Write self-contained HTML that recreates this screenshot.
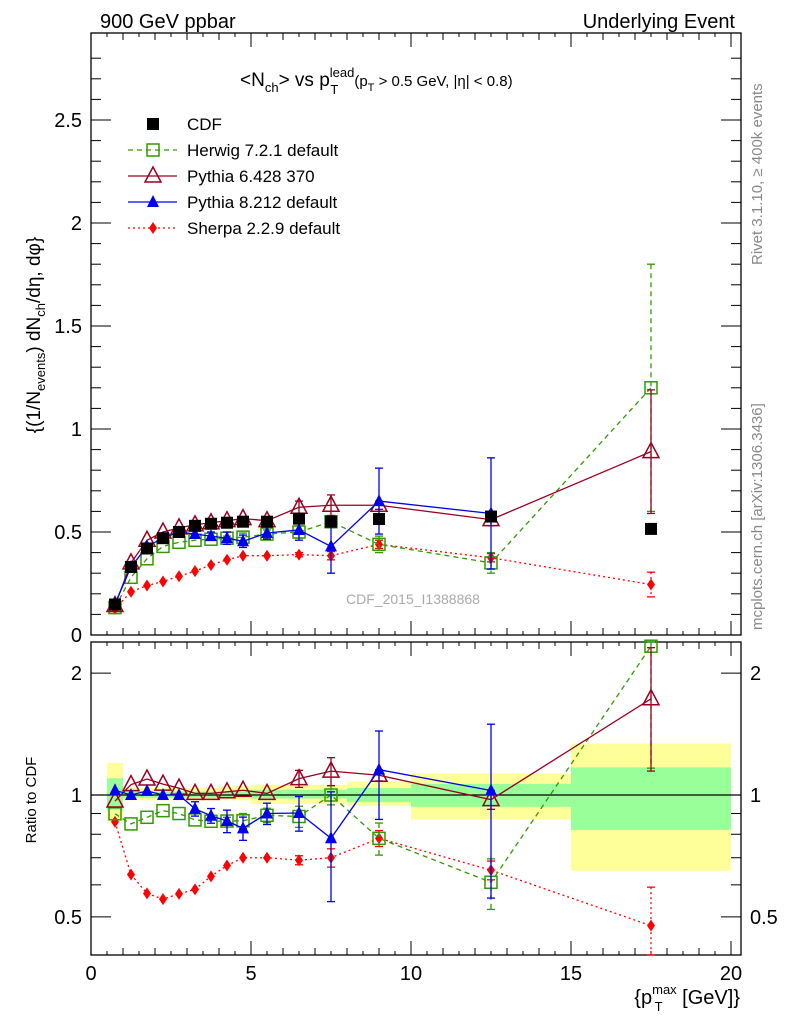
<!DOCTYPE html>
<html><head><meta charset="utf-8">
<style>
html,body{margin:0;padding:0;background:#fff;}
svg{display:block;font-family:"Liberation Sans",sans-serif;}
</style></head>
<body>
<svg id="c" width="786" height="1024" viewBox="0 0 786 1024" xmlns="http://www.w3.org/2000/svg">
<text x="100" y="28" font-size="20">900 GeV ppbar</text>
<text x="735" y="28" font-size="20" text-anchor="end">Underlying Event</text>
<text transform="translate(762,265) rotate(-90)" font-size="15" fill="#888">Rivet 3.1.10, ≥ 400k events</text>
<text transform="translate(762,630) rotate(-90)" font-size="15" fill="#888">mcplots.cern.ch [arXiv:1306.3436]</text>
<text x="240" y="86" font-size="19">&lt;N<tspan font-size="13" dy="6">ch</tspan><tspan dy="-6">&gt; vs p</tspan><tspan font-size="13" dy="-9">lead</tspan><tspan font-size="13" dx="-24" dy="17">T</tspan><tspan font-size="15" dx="16" dy="-8">(p</tspan><tspan font-size="11" dy="5">T</tspan><tspan font-size="15" dy="-5"> &gt; 0.5 GeV, |η| &lt; 0.8)</tspan></text>
<text x="413" y="604" font-size="14" fill="#aaa" text-anchor="middle">CDF_2015_I1388868</text>
<text transform="translate(40,335) rotate(-90)" font-size="19" text-anchor="middle">{(1/N<tspan font-size="13" dy="5">events</tspan><tspan dy="-5">) dN</tspan><tspan font-size="13" dy="5">ch</tspan><tspan dy="-5">/dη, dφ}</tspan></text>
<text transform="translate(36,800) rotate(-90)" font-size="15" text-anchor="middle">Ratio to CDF</text>
<text x="740" y="1004" font-size="20" text-anchor="end">{p<tspan font-size="13" dy="-10">max</tspan><tspan font-size="13" dx="-22" dy="17">T</tspan><tspan dx="14" dy="-7"> [GeV]}</tspan></text>
<g id="g"></g>
</svg>
<script>
const xs=[0.75,1.25,1.75,2.25,2.75,3.25,3.75,4.25,4.75,5.5,6.5,7.5,9,12.5,17.5];
const edges=[0.5,1,1.5,2,2.5,3,3.5,4,4.5,5,6,7,8,10,15,20];
const cdf=[0.148,0.33,0.42,0.47,0.50,0.53,0.54,0.545,0.55,0.55,0.565,0.55,0.563,0.575,0.515];
const herwig=[0.133,0.28,0.37,0.43,0.45,0.46,0.465,0.47,0.475,0.49,0.50,0.55,0.44,0.35,1.2];
const herwigErr=[0,0,0,0,0,0,0,0.01,0.02,0.02,0.03,0.03,0.04,0.05,0.6];
const py6=[0.143,0.35,0.46,0.5,0.52,0.535,0.545,0.555,0.565,0.555,0.62,0.63,0.63,0.56,0.89];
const py6Err=[0,0,0,0,0,0,0,0,0,0,0.03,0.05,0.02,0.03,0.3];
const py8=[0.152,0.33,0.43,0.47,0.5,0.49,0.48,0.47,0.455,0.495,0.51,0.43,0.65,0.59];
const py8Err=[0,0,0,0,0,0.02,0.02,0.03,0.03,0.03,0.05,0.13,0.16,0.27];
const sherpa=[0.127,0.21,0.24,0.26,0.285,0.31,0.34,0.365,0.385,0.385,0.39,0.385,0.44,0.375,0.245];
const sherpaErr=[0,0,0,0,0,0,0,0,0,0,0.01,0.02,0.02,0.02,0.06];
const yellowLo=[0.86,0.97,0.97,0.97,0.97,0.97,0.97,0.97,0.97,0.95,0.95,0.95,0.94,0.87,0.65];
const yellowHi=[1.2,1.04,1.04,1.04,1.04,1.04,1.04,1.05,1.05,1.06,1.06,1.06,1.08,1.13,1.34];
const greenLo=[0.92,0.985,0.985,0.985,0.985,0.985,0.985,0.985,0.985,0.98,0.98,0.98,0.96,0.935,0.82];
const greenHi=[1.1,1.02,1.02,1.02,1.02,1.02,1.02,1.02,1.02,1.03,1.03,1.03,1.04,1.065,1.17];
const mainTicks=[0,0.5,1,1.5,2,2.5];
const mainTickLabels=["0","0.5","1","1.5","2","2.5"];
const xTicks=[0,5,10,15,20];
const ratioTicks=[0.5,1,2];

const L=91,R=741,T1=33,B1=635,T2=642,B2=955;
const X=v=>L+v*32;
const Y=v=>B1-v*206;
const YR=r=>795-405*Math.log10(r);
const g=document.getElementById('g');
const NS='http://www.w3.org/2000/svg';
function el(t,a,parent){const e=document.createElementNS(NS,t);for(const k in a)e.setAttribute(k,a[k]);(parent||g).appendChild(e);return e;}

for(let i=0;i<xs.length;i++){
  const b=el('rect',{x:X(edges[i]),y:YR(yellowHi[i]),width:X(edges[i+1])-X(edges[i]),height:YR(yellowLo[i])-YR(yellowHi[i]),fill:'#ffff99'});
  
  
  const gb=el('rect',{x:X(edges[i]),y:YR(greenHi[i]),width:X(edges[i+1])-X(edges[i]),height:YR(greenLo[i])-YR(greenHi[i]),fill:'#99ff99'});
  
  
}
el('line',{x1:L,x2:R,y1:YR(1),y2:YR(1),stroke:'#000','stroke-width':1.3});

const f1=el('rect',{x:L,y:T1,width:R-L,height:B1-T1,fill:'none',stroke:'#000','stroke-width':1.3});


const f2=el('rect',{x:L,y:T2,width:R-L,height:B2-T2,fill:'none',stroke:'#000','stroke-width':1.3});



for(let v=0;v<=20.3;v+=0.5){
  const major=Math.abs(v%5)<1e-9, mid=Math.abs(v%1)<1e-9;
  const len=major?14:(mid?7:4);
  [[B1,-1],[T1,1],[B2,-1],[T2,1]].forEach(([y,d])=>el('line',{x1:X(v),x2:X(v),y1:y,y2:y+d*len,stroke:'#000'}));
}
xTicks.forEach(v=>{const t=el('text',{x:X(v),y:980,'font-size':20,'text-anchor':'middle'});t.textContent=v;
  
  });
for(let v=0;v<=2.9;v+=0.1){const maj=Math.abs((v*2)%1)<1e-6||Math.abs((v*2)%1-1)<1e-6;const len=maj?20:10;
  el('line',{x1:L,x2:L+len,y1:Y(v),y2:Y(v),stroke:'#000'});el('line',{x1:R,x2:R-len,y1:Y(v),y2:Y(v),stroke:'#000'});}
mainTicks.forEach((v,i)=>{const t=el('text',{x:82,y:Y(v)+7,'font-size':20,'text-anchor':'end'});t.textContent=mainTickLabels[i];
  
  });
[0.5,0.6,0.7,0.8,0.9,1,2].forEach(v=>{const maj=ratioTicks.includes(v);const len=maj?20:10;
  el('line',{x1:L,x2:L+len,y1:YR(v),y2:YR(v),stroke:'#000'});el('line',{x1:R,x2:R-len,y1:YR(v),y2:YR(v),stroke:'#000'});});
ratioTicks.forEach(v=>{[[82,'end'],[750,'start']].forEach(([x,a])=>{const t=el('text',{x:x,y:YR(v)+7,'font-size':20,'text-anchor':a});t.textContent=v;
  
  });});

function marker(type,x,y,c,parent){
  if(type==='sq')return el('rect',{x:x-6,y:y-6,width:12,height:12,fill:'#000'},parent);
  if(type==='osq')return el('rect',{x:x-6,y:y-6,width:12,height:12,fill:'none',stroke:c,'stroke-width':1.5},parent);
  if(type==='otri')return el('path',{d:`M${x},${y-9}L${x+8},${y+6}L${x-8},${y+6}Z`,fill:'none',stroke:c,'stroke-width':1.5},parent);
  if(type==='tri')return el('path',{d:`M${x},${y-7}L${x+6},${y+5}L${x-6},${y+5}Z`,fill:c},parent);
  if(type==='dia')return el('path',{d:`M${x},${y-6}L${x+4},${y}L${x},${y+6}L${x-4},${y}Z`,fill:c},parent);
}
function series(name,vals,errs,type,c,dash,ratio){
  const grp=el('g',{});
  
  
  const yf=ratio?(v,i)=>YR(v/cdf[i]):(v)=>Y(v);
  const clip=ratio?(y=>Math.max(T2,Math.min(B2,y))):(y=>y);
  if(c){const pts=vals.map((v,i)=>X(xs[i])+','+clip(yf(v,i))).join(' ');
    el('polyline',{points:pts,fill:'none',stroke:c,'stroke-width':1.3,'stroke-dasharray':dash||'none'},grp);}
  vals.forEach((v,i)=>{
    const e=errs?errs[i]:0;
    if(e>0){const y1=clip(yf(v+e,i)),y2=clip(yf(Math.max(v-e,0.001),i));
      el('line',{x1:X(xs[i]),x2:X(xs[i]),y1:y1,y2:y2,stroke:c,'stroke-width':1.3,'stroke-dasharray':dash||'none'},grp);
      el('line',{x1:X(xs[i])-4,x2:X(xs[i])+4,y1:y1,y2:y1,stroke:c,'stroke-width':1.3},grp);
      el('line',{x1:X(xs[i])-4,x2:X(xs[i])+4,y1:y2,y2:y2,stroke:c,'stroke-width':1.3},grp);}
    const y=yf(v,i);
    if(!(ratio&&y<T2-2)){ const m=marker(type,X(xs[i]),y,c||'#000',grp);
      
      }
  });
}
['main','ratio'].forEach(k=>{
  const r=k==='ratio';
  series('sherpa',sherpa,sherpaErr,'dia','#ff0000','2,3',r);
  series('herwig',herwig,herwigErr,'osq','#339900','5,4',r);
  series('pythia6',py6,py6Err,'otri','#990022',null,r);
  series('pythia8',py8,py8Err,'tri','#0000ee',null,r);
  if(!r)series('cdf',cdf,null,'sq',null,null,false);
});

const leg=[['CDF','sq',null,null],['Herwig 7.2.1 default','osq','#339900','5,4'],['Pythia 6.428 370','otri','#990022',null],['Pythia 8.212 default','tri','#0000ee',null],['Sherpa 2.2.9 default','dia','#ff0000','2,3']];
leg.forEach((l,i)=>{const y=124+i*26;const lg=el('g',{});
  
  
  if(l[2])el('line',{x1:128,x2:177,y1:y,y2:y,stroke:l[2],'stroke-width':1.3,'stroke-dasharray':l[3]||'none'},lg);
  marker(l[1],153,y,l[2]||'#000',lg);
  const t=el('text',{x:187,y:y+6,'font-size':17},lg);t.textContent=l[0];});
</script>
</body></html>
